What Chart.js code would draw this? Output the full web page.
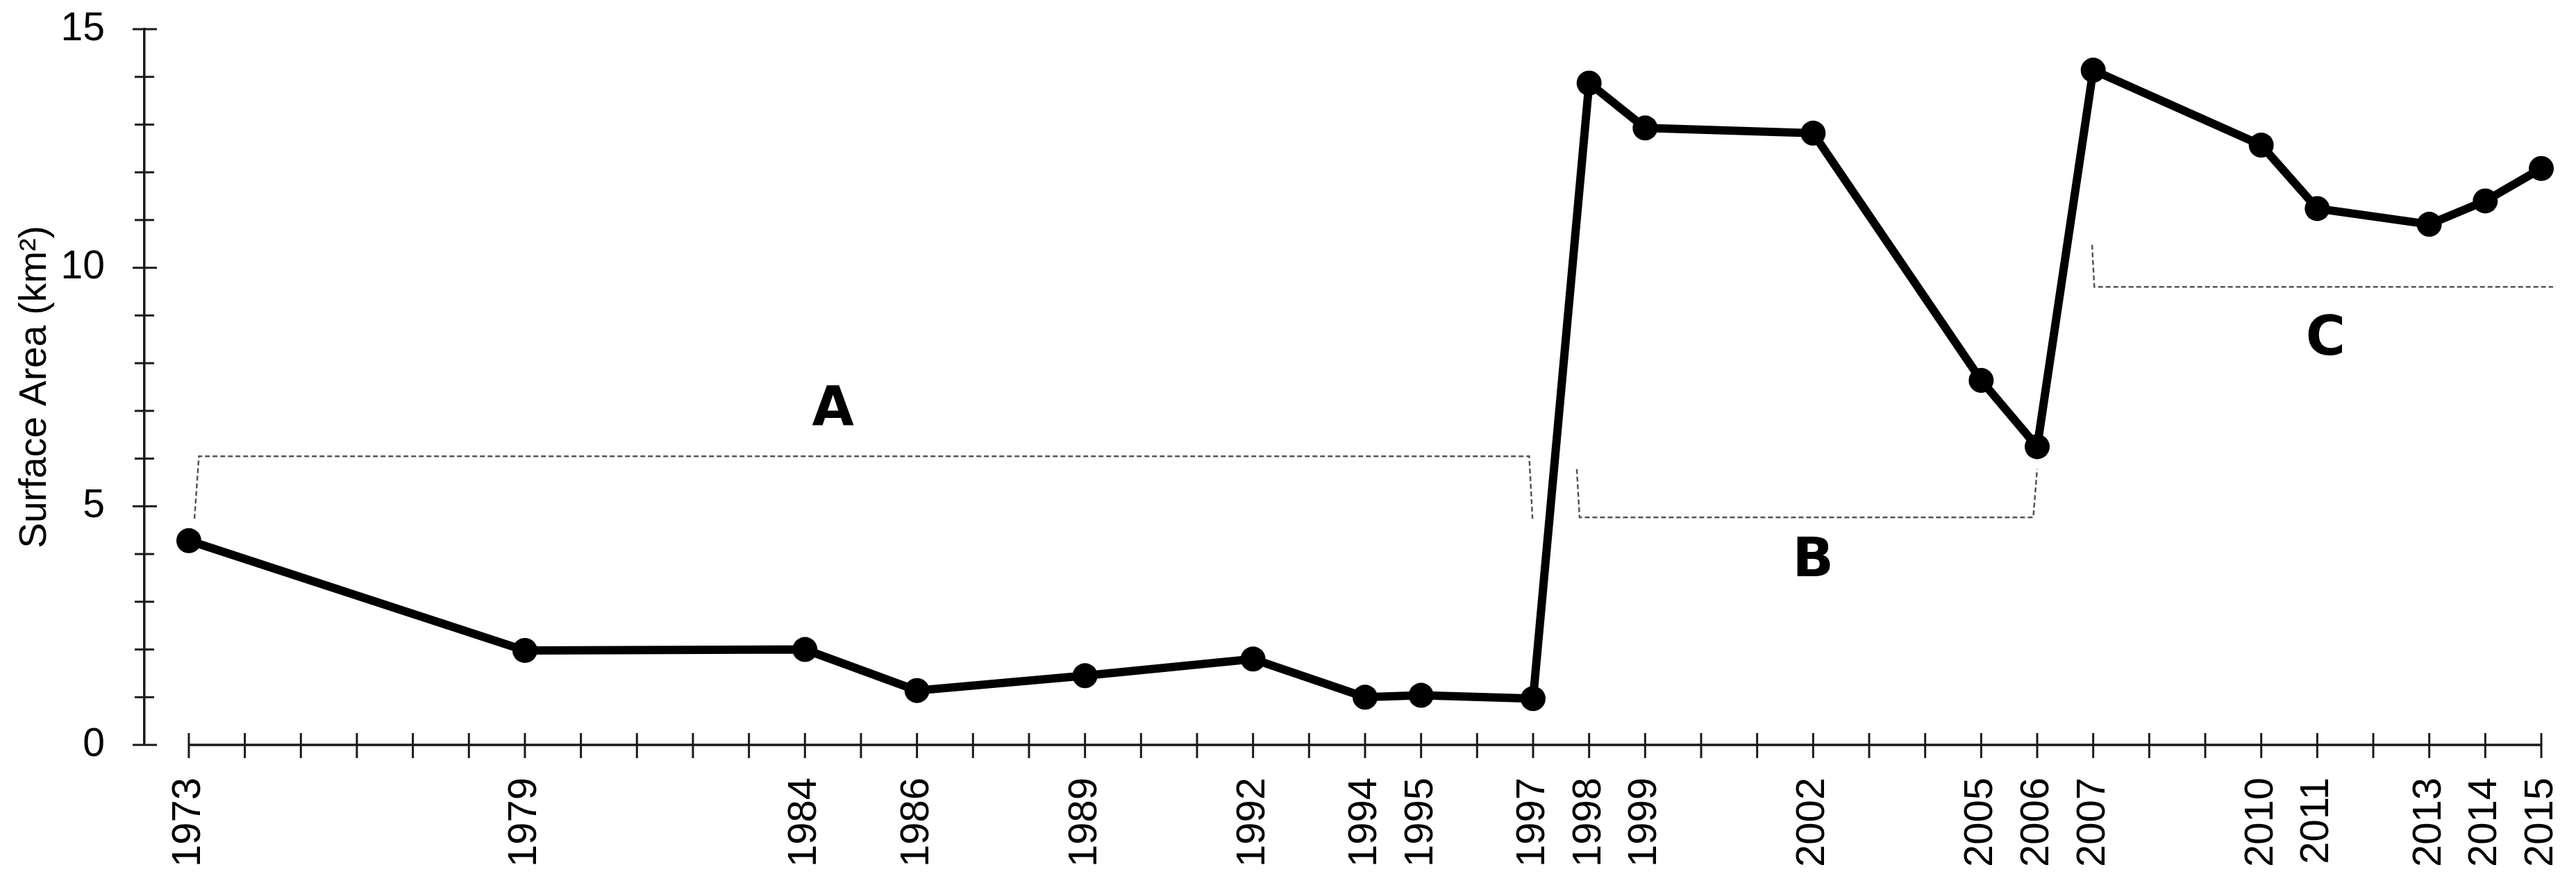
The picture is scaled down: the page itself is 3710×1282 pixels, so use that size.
<!DOCTYPE html>
<html>
<head>
<meta charset="utf-8">
<script src="https://cdn.jsdelivr.net/npm/chart.js@4.4.1/dist/chart.umd.min.js"></script>
<style>
  html, body { margin: 0; padding: 0; background: #fff; }
  #wrap { width: 3710px; height: 1282px; }
</style>
</head>
<body>
<div id="wrap"><canvas id="chart"></canvas></div>
<script>
// Survey years and lake surface area (km2)
const years = [1973, 1979, 1984, 1986, 1989, 1992, 1994, 1995, 1997, 1998, 1999, 2002, 2005, 2006, 2007, 2010, 2011, 2013, 2014, 2015];
const area  = [4.28, 1.98, 2.0, 1.14, 1.45, 1.8, 1.0, 1.04, 0.97, 13.87, 12.93, 12.82, 7.64, 6.25, 14.14, 12.57, 11.24, 10.91, 11.4, 12.08];

// every year gets a tick mark, only survey years get a label
const tickYears = [];
for (let y = 1973; y <= 2015; y++) tickYears.push(y);
const yTicks = [0, 5, 10, 15];

// dashed brackets marking the periods (x = year, y = km2)
const bracketA = [[1973.1, 4.74], [1973.18, 6.05], [1996.93, 6.05], [1996.99, 4.74]];
const bracketB = [[1997.78, 5.78], [1997.83, 4.77], [2005.93, 4.77], [2006.0, 5.78]];
const bracketC = [[2006.98, 10.48], [2007.02, 9.6], [2015.21, 9.6], [2015.3, 10.48]];

const periodNames = ["A", "B", "C"];
const periodX = [1984.5, 2002.0, 2011.15];
const periodY = [7.0, 3.83, 8.47];

const toPoints = arr => arr.map(p => ({ x: p[0], y: p[1] }));

// tick marks that cross the axis line, plus the x axis line itself
const axisPlugin = {
    id: "axisMarks",
    afterDraw(chart) {
        const ctx = chart.ctx;
        const xs = chart.scales.x, ys = chart.scales.y;
        const y0 = ys.getPixelForValue(0);
        const x0 = chart.chartArea.left;
        ctx.save();
        ctx.strokeStyle = "#1a1a1a";
        ctx.lineWidth = 3.5;
        ctx.beginPath();
        ctx.moveTo(xs.getPixelForValue(tickYears[0]), y0);
        ctx.lineTo(xs.getPixelForValue(tickYears[tickYears.length - 1]), y0);
        ctx.stroke();

        ctx.lineWidth = 3;
        tickYears.forEach(v => {
            const px = xs.getPixelForValue(v);
            ctx.beginPath();
            ctx.moveTo(px, y0 - 17);
            ctx.lineTo(px, y0 + 19);
            ctx.stroke();
        });
        ys.ticks.forEach(t => {
            const py = ys.getPixelForValue(t.value);
            const major = yTicks.includes(t.value);
            ctx.beginPath();
            ctx.moveTo(x0 - (major ? 17 : 14), py);
            ctx.lineTo(x0 + (major ? 18 : 14), py);
            ctx.stroke();
        });
        ctx.restore();
    }
};

// period letters A, B, C
const labelPlugin = {
    id: "periodLabels",
    afterDatasetsDraw(chart) {
        const ctx = chart.ctx;
        ctx.save();
        ctx.fillStyle = "#000";
        ctx.font = "bold 78px 'DejaVu Sans'";
        ctx.textAlign = "center";
        ctx.textBaseline = "middle";
        periodNames.forEach((name, i) => {
            ctx.fillText(name, chart.scales.x.getPixelForValue(periodX[i]), chart.scales.y.getPixelForValue(periodY[i]));
        });
        ctx.restore();
    }
};

const bracketStyle = {
    borderColor: "#555",
    borderWidth: 2.5,
    borderDash: [7, 4],
    pointRadius: 0,
    tension: 0,
    fill: false,
    clip: false
};

new Chart(document.getElementById("chart"), {
    type: "line",
    data: {
        datasets: [
            Object.assign({ data: toPoints(bracketA) }, bracketStyle),
            Object.assign({ data: toPoints(bracketB) }, bracketStyle),
            Object.assign({ data: toPoints(bracketC) }, bracketStyle),
            {
                label: "Surface Area",
                data: years.map((y, i) => ({ x: y, y: area[i] })),
                borderColor: "#000",
                borderWidth: 12,
                backgroundColor: "#000",
                pointRadius: 18,
                pointBackgroundColor: "#000",
                pointBorderWidth: 0,
                tension: 0,
                clip: false
            }
        ]
    },
    options: {
        responsive: true,
        maintainAspectRatio: false,
        animation: false,
        layout: { padding: { top: 42, right: 50, left: 0, bottom: 0 } },
        plugins: {
            legend: { display: false },
            tooltip: { enabled: false }
        },
        scales: {
            x: {
                type: "linear",
                min: 1972.207,
                max: 2015,
                afterBuildTicks: scale => { scale.ticks = tickYears.map(v => ({ value: v })); },
                afterFit: scale => {
                    scale.height = 209;
                    scale.paddingLeft = 0;
                    scale.paddingRight = 0;
                },
                grid: { display: false },
                border: { display: false },
                ticks: {
                    autoSkip: false,
                    maxRotation: 90,
                    minRotation: 90,
                    padding: 39,
                    color: "#000",
                    font: { family: "'Liberation Sans', Arial", size: 58 },
                    callback: v => years.includes(v) ? String(v) : ""
                }
            },
            y: {
                min: 0,
                max: 15,
                afterFit: scale => {
                    scale.width = 208;
                    scale.paddingTop = 0;
                    scale.paddingBottom = 0;
                },
                grid: { display: false },
                border: { display: true, color: "#1a1a1a", width: 3.5 },
                ticks: {
                    autoSkip: false,
                    stepSize: 1,
                    padding: 49,
                    color: "#000",
                    font: { family: "'Liberation Sans', Arial", size: 57 },
                    callback: v => yTicks.includes(v) ? String(v) : ""
                },
                title: {
                    display: true,
                    text: "Surface Area (km²)",
                    color: "#000",
                    padding: { top: 18, bottom: 0 },
                    font: { family: "'Liberation Sans', Arial", size: 55 }
                }
            }
        }
    },
    plugins: [axisPlugin, labelPlugin]
});
</script>
</body>
</html>
